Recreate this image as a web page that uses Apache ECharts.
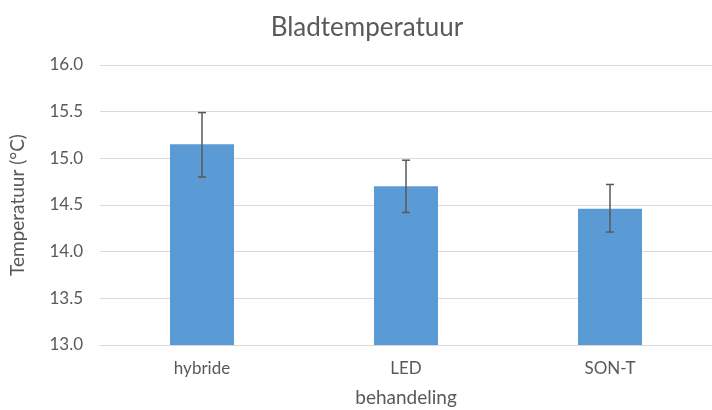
<!DOCTYPE html>
<html><head><meta charset="utf-8">
<script src="https://cdn.jsdelivr.net/npm/echarts@6/dist/echarts.min.js"></script>
<style>html,body{margin:0;padding:0;background:#fff}#c{width:712px;height:410px}</style>
</head><body><div id="c"></div>
<script>
const categories = ['hybride', 'LED', 'SON-T'];
const means = [15.15, 14.70, 14.46];
const errLow = [14.80, 14.42, 14.21];
const errHigh = [15.49, 14.98, 14.72];
const yTicks = { min: 13.0, max: 16.0, interval: 0.5 };

const font = 'Lato, "Open Sans", sans-serif';
const txt = '#595959';
const chart = echarts.init(document.getElementById('c'));
chart.setOption({
  animation: false,
  title: {
    text: 'Bladtemperatuur', left: 362, top: 10, textAlign: 'center',
    textStyle: { fontFamily: font, fontSize: 26, fontWeight: 'normal', color: txt }
  },
  grid: { left: 100, right: 0, top: 65, bottom: 65, containLabel: false, outerBoundsMode: 'none' },
  xAxis: {
    type: 'category', data: categories,
    name: 'behandeling', nameLocation: 'middle', nameGap: 43,
    nameTextStyle: { fontFamily: font, fontSize: 19, color: txt },
    axisLine: { lineStyle: { color: '#d9d9d9', width: 1 } },
    axisTick: { show: false },
    axisLabel: { fontFamily: font, fontSize: 17, color: txt, margin: 15 }
  },
  yAxis: {
    type: 'value', min: yTicks.min, max: yTicks.max, interval: yTicks.interval,
    name: 'Temperatuur (°C)', nameLocation: 'middle', nameGap: 73, nameRotate: 90,
    nameTextStyle: { fontFamily: font, fontSize: 19, color: txt },
    axisLine: { show: false }, axisTick: { show: false },
    axisLabel: { fontFamily: font, fontSize: 17, color: txt, margin: 17,
      formatter: v => v.toFixed(1) },
    splitLine: { lineStyle: { color: '#d9d9d9', width: 1 } }
  },
  series: [
    { type: 'bar', data: means, barWidth: 64, itemStyle: { color: '#5B9BD5' } },
    {
      type: 'custom', z: 5,
      data: categories.map((c, i) => [i, errLow[i], errHigh[i]]),
      renderItem: function (params, api) {
        const lo = api.coord([api.value(0), api.value(1)]);
        const hi = api.coord([api.value(0), api.value(2)]);
        const w = 4;
        const st = { stroke: '#595959', lineWidth: 1.5 };
        return { type: 'group', children: [
          { type: 'line', shape: { x1: hi[0], y1: hi[1], x2: lo[0], y2: lo[1] }, style: st },
          { type: 'line', shape: { x1: hi[0] - w, y1: hi[1], x2: hi[0] + w, y2: hi[1] }, style: st },
          { type: 'line', shape: { x1: lo[0] - w, y1: lo[1], x2: lo[0] + w, y2: lo[1] }, style: st }
        ]};
      }
    }
  ]
});
</script></body></html>
